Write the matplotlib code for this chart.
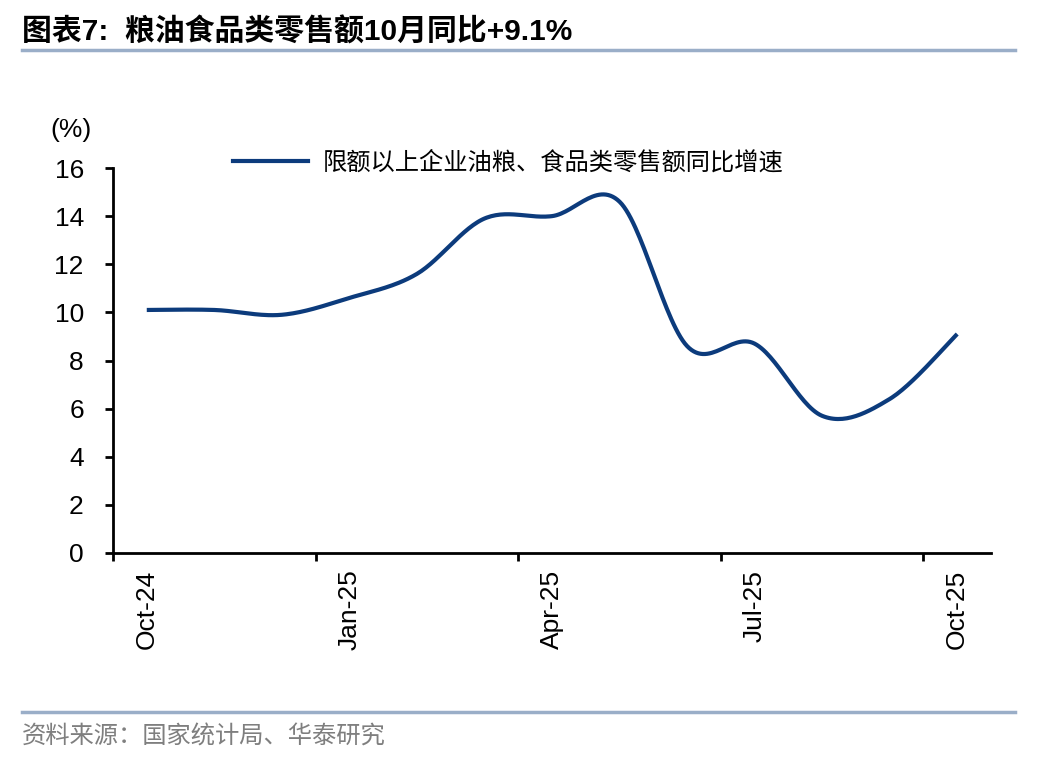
import numpy as np
import matplotlib
matplotlib.use("Agg")
import matplotlib.pyplot as plt
from matplotlib.lines import Line2D

plt.rcParams['font.family'] = ['Liberation Sans', 'Noto Sans CJK SC', 'DejaVu Sans']

# ---------------- data ----------------
months = ["Oct-24", "Nov-24", "Dec-24", "Jan-25", "Feb-25", "Mar-25", "Apr-25",
          "May-25", "Jun-25", "Jul-25", "Aug-25", "Sep-25", "Oct-25"]
values = [10.1, 10.1, 9.9, 10.6, 11.6, 13.9, 14.0, 14.6, 8.6, 8.7, 5.7, 6.4, 9.1]
label_idx = [0, 3, 6, 9, 12]
yticks = [0, 2, 4, 6, 8, 10, 12, 14, 16]

title = "图表7:  粮油食品类零售额10月同比+9.1%"
series_name = "限额以上企业油粮、食品类零售额同比增速"
source = "资料来源：国家统计局、华泰研究"

LINE_C = "#0c3b7c"
RULE_C = "#9aaec8"


def smooth(xs, ys, n=30):
    """Catmull-Rom style smoothing (like Excel's smoothed line)."""
    xs = np.asarray(xs, float)
    ys = np.asarray(ys, float)
    px = np.concatenate([[xs[0]], xs, [xs[-1]]])
    py = np.concatenate([[ys[0]], ys, [ys[-1]]])
    ox, oy = [], []
    for i in range(1, len(px) - 2):
        p0 = np.array([px[i - 1], py[i - 1]])
        p1 = np.array([px[i], py[i]])
        p2 = np.array([px[i + 1], py[i + 1]])
        p3 = np.array([px[i + 2], py[i + 2]])
        c1 = p1 + (p2 - p0) / 6.0
        c2 = p2 - (p3 - p1) / 6.0
        t = np.linspace(0, 1, n, endpoint=(i == len(px) - 3))[:, None]
        pts = ((1 - t) ** 3) * p1 + 3 * ((1 - t) ** 2) * t * c1 + 3 * (1 - t) * t ** 2 * c2 + t ** 3 * p2
        ox.extend(pts[:, 0])
        oy.extend(pts[:, 1])
    return np.array(ox), np.array(oy)


W, H = 1048, 760
fig = plt.figure(figsize=(W / 100, H / 100), dpi=100)
ax = fig.add_axes([113 / W, 1 - 553 / H, (991 - 113) / W, (553 - 168) / H])

x = np.arange(len(months))
sx, sy = smooth(x, values)
ax.plot(sx, sy, color=LINE_C, lw=3.0, solid_capstyle='butt')

ax.set_xlim(-0.5, len(months) - 0.5)
ax.set_ylim(0, 16)
ax.set_yticks(yticks)
ax.set_yticklabels([str(v) for v in yticks])

# major ticks at category boundaries (marks only), minor ticks at centers (labels)
ax.set_xticks([i - 0.5 for i in label_idx if i - 0.5 < len(months) - 0.5])
ax.set_xticklabels([])
ax.set_xticks(label_idx, minor=True)
ax.set_xticklabels([months[i] for i in label_idx], minor=True, rotation=90)

ax.tick_params(axis='x', which='major', direction='out', length=6, width=2, color='black')
ax.tick_params(axis='x', which='minor', length=0, pad=12, labelsize=19)
ax.tick_params(axis='y', direction='out', length=6, width=2, pad=15, labelsize=19)

for s in ['top', 'right']:
    ax.spines[s].set_visible(False)
for s in ['left', 'bottom']:
    ax.spines[s].set_linewidth(2)

# legend
handle = Line2D([], [], color=LINE_C, lw=3.0)
leg = fig.legend([handle], [series_name], loc='center left',
                 bbox_to_anchor=(233 / W, 1 - 163 / H), frameon=False,
                 borderpad=0, borderaxespad=0, handlelength=3.1, handletextpad=0.6,
                 prop={'family': ['Noto Sans CJK SC'], 'size': 17.5})

# unit label
fig.text(50 / W, 1 - 130 / H, "(%)", fontsize=19, va='center', ha='left')

# title and rules
fig.text(22 / W, 1 - 32 / H, title, fontsize=21.5, fontweight='bold', va='center', ha='left')
fig.add_artist(Line2D([22 / W, 1015 / W], [1 - 50 / H, 1 - 50 / H], color=RULE_C, lw=2.5))
fig.add_artist(Line2D([22 / W, 1015 / W], [1 - 712 / H, 1 - 712 / H], color=RULE_C, lw=2.5))
fig.text(22 / W, 1 - 737 / H, source, fontsize=17.5, color='#7f7f7f', va='center', ha='left',
         family=['Noto Sans CJK SC'])

fig.savefig("out.png", dpi=100)
